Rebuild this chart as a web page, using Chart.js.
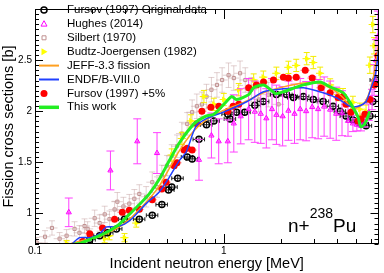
<!DOCTYPE html>
<html>
<head>
<meta charset="utf-8">
<script src="https://cdn.jsdelivr.net/npm/chart.js@4.4.0/dist/chart.umd.min.js"></script>
<style>
  html, body { margin: 0; padding: 0; background: #fff; }
  #wrap { position: relative; width: 384px; height: 273px; }
</style>
</head>
<body>
<div id="wrap"><canvas id="chart"></canvas></div>
<script>
/* ---- data (energy in MeV, cross section in barn) ---- */
const xTicks = [0.1, 1];
const yTicks = [1, 1.5, 2, 2.5];

// This work
const workE  = [0.157, 0.172, 0.195, 0.220, 0.248, 0.280, 0.316, 0.357, 0.403, 0.455, 0.514, 0.580, 0.695, 0.804, 0.886, 1.00, 1.10, 1.17, 1.354, 1.438, 1.624, 1.77, 1.88, 2.07, 2.64, 3.24, 3.66, 4.28, 4.66, 5.14, 5.32, 5.59, 5.94];
const workXS = [0.695, 0.705, 0.743, 0.781, 0.829, 0.895, 0.990, 1.086, 1.190, 1.333, 1.514, 1.686, 1.876, 1.952, 1.971, 2.067, 2.143, 2.114, 2.162, 2.229, 2.257, 2.210, 2.171, 2.190, 2.257, 2.286, 2.238, 2.181, 2.086, 1.943, 1.848, 1.876, 2.000];

// ENDF/B-VIII.0
const endfE  = [0.153, 0.172, 0.195, 0.220, 0.239, 0.264, 0.298, 0.328, 0.388, 0.455, 0.514, 0.580, 0.632, 0.711, 0.804, 1.025, 1.33, 1.624, 2.07, 2.64, 3.36, 3.94, 4.66, 5.14, 5.67, 6.03, 6.35, 6.6];
const endfXS = [0.680, 0.762, 0.762, 0.800, 0.867, 0.867, 0.895, 0.952, 1.095, 1.210, 1.352, 1.514, 1.600, 1.848, 1.924, 2.000, 2.095, 2.190, 2.219, 2.229, 2.181, 2.133, 2.048, 2.048, 2.095, 2.229, 2.352, 2.590];

// JEFF-3.3 fission
const jeffE  = [0.139, 0.162, 0.195, 0.220, 0.248, 0.280, 0.316, 0.357, 0.403, 0.455, 0.514, 0.580, 0.655, 0.739, 0.834, 1.00, 1.274, 1.624, 2.07, 2.64, 3.16, 3.79, 4.28, 4.66, 5.00, 5.46, 5.80, 6.16, 6.6];
const jeffXS = [0.676, 0.714, 0.752, 0.771, 0.819, 0.867, 0.943, 1.038, 1.143, 1.267, 1.438, 1.610, 1.752, 1.857, 1.933, 2.010, 2.086, 2.181, 2.238, 2.276, 2.276, 2.210, 2.133, 2.048, 2.029, 2.067, 2.143, 2.305, 2.638];

// Fursov (1997) original data
const fursovE   = [0.195, 0.220, 0.242, 0.270, 0.298, 0.357, 0.418, 0.470, 0.510, 0.530, 0.570, 0.640, 0.680, 0.739, 0.810, 0.886, 1.05, 1.08, 1.17, 1.29, 1.46, 1.62, 1.90, 2.15, 2.34, 2.64, 2.98, 3.36, 3.79, 4.13, 4.44, 4.83, 5.14, 5.46, 5.67, 5.94, 6.16, 6.40];
const fursovXS  = [0.743, 0.781, 0.810, 0.848, 0.943, 0.943, 0.981, 1.086, 1.229, 1.257, 1.343, 1.552, 1.533, 1.724, 1.867, 1.905, 1.971, 1.924, 1.990, 1.990, 2.057, 2.095, 2.162, 2.162, 2.133, 2.143, 2.114, 2.095, 2.048, 2.000, 1.952, 1.914, 1.895, 1.876, 1.857, 1.952, 2.095, 2.305];
const fursovDXS = [0.02, 0.02, 0.02, 0.02, 0.02, 0.02, 0.02, 0.03, 0.03, 0.03, 0.03, 0.03, 0.03, 0.03, 0.03, 0.03, 0.03, 0.03, 0.03, 0.03, 0.03, 0.03, 0.03, 0.03, 0.03, 0.03, 0.03, 0.03, 0.03, 0.03, 0.03, 0.03, 0.03, 0.03, 0.03, 0.03, 0.04, 0.04];
const fursovRelDE = 0.07;

// Fursov (1997) +5%
const plus5E   = [0.179, 0.195, 0.228, 0.264, 0.290, 0.316, 0.357, 0.418, 0.470, 0.495, 0.546, 0.565, 0.616, 0.640, 0.680, 0.720, 0.766, 0.854, 0.941, 1.05, 1.12, 1.20, 1.354, 1.49, 1.624, 1.833, 2.069, 2.198, 2.42, 2.70, 2.94, 3.28, 3.66, 4.03, 4.28, 4.44, 4.72, 5.14, 5.33, 5.59, 5.94, 6.28, 6.55];
const plus5XS  = [0.724, 0.800, 0.857, 0.943, 1.010, 1.030, 1.040, 1.133, 1.238, 1.305, 1.467, 1.495, 1.619, 1.638, 1.619, 1.876, 2.000, 2.038, 2.048, 2.000, 2.048, 2.067, 2.229, 2.257, 2.286, 2.305, 2.333, 2.324, 2.333, 2.400, 2.324, 2.229, 2.181, 2.133, 2.143, 2.067, 1.990, 1.905, 1.924, 1.971, 2.114, 2.257, 2.543];
const plus5DXS = [0.02, 0.02, 0.02, 0.02, 0.03, 0.03, 0.03, 0.03, 0.03, 0.03, 0.03, 0.03, 0.03, 0.03, 0.03, 0.03, 0.03, 0.03, 0.03, 0.03, 0.03, 0.03, 0.03, 0.03, 0.03, 0.03, 0.03, 0.03, 0.03, 0.03, 0.03, 0.03, 0.03, 0.03, 0.03, 0.03, 0.03, 0.03, 0.03, 0.03, 0.04, 0.04, 0.04];
const plus5RelDE = 0.06;

// Hughes (2014)
const hughesE   = [0.151, 0.251, 0.348, 0.443, 0.739, 0.86, 0.94, 1.05, 1.13, 1.23, 1.354, 1.46, 1.57, 1.68, 1.80, 1.90, 2.05, 2.20, 2.37, 2.54, 2.73, 2.94, 3.16, 3.40, 3.66, 3.94, 4.23, 4.55, 4.83, 5.07, 5.33, 5.59, 5.86, 6.10, 6.25, 6.40, 6.55];
const hughesXS  = [1.010, 1.420, 1.705, 1.590, 1.524, 1.762, 1.705, 1.705, 1.880, 1.950, 2.020, 1.995, 1.975, 1.930, 2.020, 1.965, 1.950, 2.005, 1.975, 2.020, 2.000, 2.040, 2.020, 2.045, 2.015, 1.975, 1.980, 1.905, 1.880, 1.867, 1.857, 1.895, 1.990, 2.114, 2.305, 2.500, 2.730];
const hughesDXS = [0.14, 0.19, 0.22, 0.20, 0.20, 0.22, 0.22, 0.21, 0.28, 0.27, 0.30, 0.30, 0.29, 0.29, 0.30, 0.29, 0.29, 0.29, 0.29, 0.30, 0.29, 0.30, 0.29, 0.29, 0.28, 0.26, 0.22, 0.15, 0.08, 0.06, 0.05, 0.05, 0.08, 0.10, 0.15, 0.20, 0.25];
const hughesRelDE = 0.02;

// Silbert (1970)
const silbertE   = [0.102, 0.113, 0.123, 0.135, 0.147, 0.162, 0.172, 0.183, 0.190, 0.207, 0.220, 0.234, 0.248, 0.264, 0.273, 0.294, 0.316, 0.336, 0.357, 0.388, 0.418, 0.443, 0.470, 0.500, 0.530, 0.565, 0.600, 0.640, 0.680, 0.720, 0.766, 0.810, 0.860, 0.920, 0.980, 1.06, 1.13, 1.22, 1.30, 1.40, 1.53, 1.72, 1.95];
const silbertXS  = [0.714, 0.771, 0.857, 0.752, 0.781, 0.848, 0.810, 0.876, 0.848, 0.952, 0.905, 0.990, 0.943, 1.038, 1.114, 1.067, 1.095, 1.143, 1.190, 1.162, 1.305, 1.257, 1.371, 1.467, 1.562, 1.657, 1.781, 1.876, 1.990, 2.048, 2.067, 2.143, 2.210, 2.257, 2.305, 2.352, 2.324, 2.371, 2.305, 2.210, 2.114, 2.162, 2.067];
const silbertDXS = [0.05, 0.06, 0.07, 0.06, 0.06, 0.07, 0.07, 0.07, 0.07, 0.08, 0.08, 0.08, 0.08, 0.08, 0.09, 0.09, 0.09, 0.09, 0.09, 0.10, 0.10, 0.10, 0.10, 0.10, 0.11, 0.11, 0.11, 0.11, 0.12, 0.12, 0.12, 0.12, 0.12, 0.12, 0.12, 0.12, 0.12, 0.12, 0.12, 0.12, 0.12, 0.12, 0.12];
const silbertRelDE = 0.07;

// Budtz-Joergensen (1982)
const budtzE   = [0.147, 0.234, 0.248, 0.298, 0.344, 0.530, 0.600, 0.670, 0.785, 0.886, 1.00, 1.20, 1.44, 1.62, 1.90, 2.20, 2.42, 2.75, 2.98, 3.24, 3.66, 4.03, 4.28, 4.83, 5.26, 5.67, 5.94, 6.16, 6.25];
const budtzXS  = [0.705, 0.752, 0.781, 0.762, 0.905, 1.571, 1.733, 1.905, 2.143, 2.067, 2.114, 2.210, 2.305, 2.333, 2.371, 2.429, 2.448, 2.514, 2.476, 2.371, 2.257, 2.162, 2.162, 2.086, 2.019, 2.000, 2.450, 2.848, 2.640];
const budtzDXS = [0.03, 0.04, 0.04, 0.04, 0.04, 0.06, 0.06, 0.06, 0.06, 0.06, 0.06, 0.06, 0.06, 0.06, 0.06, 0.06, 0.06, 0.06, 0.06, 0.06, 0.06, 0.06, 0.06, 0.06, 0.06, 0.06, 0.08, 0.08, 0.08];
const budtzRelDE = 0.05;

/* ---- helpers ---- */
const FONT = "'Liberation Sans', Arial, Helvetica, sans-serif";
const pts = (xs, ys) => xs.map((x, i) => ({ x, y: ys[i] }));

/* error bars drawn just under each dataset's own markers */
const errorBars = {
  id: 'errorBars',
  beforeDatasetDraw(chart, args) {
    const ds = chart.data.datasets[args.index];
    const e = ds.err;
    if (!e) return;
    const { ctx, chartArea: a, scales: { x, y } } = chart;
    ctx.save();
    ctx.beginPath();
    ctx.rect(a.left, a.top, a.right - a.left, a.bottom - a.top);
    ctx.clip();
    ctx.strokeStyle = e.color;
    ctx.lineWidth = 1;
    ds.data.forEach((p, i) => {
      const px = x.getPixelForValue(p.x);
      const py = y.getPixelForValue(p.y);
      const y1 = y.getPixelForValue(p.y - e.dy[i]);
      const y2 = y.getPixelForValue(p.y + e.dy[i]);
      const x1 = x.getPixelForValue(p.x * (1 - e.relDx));
      const x2 = x.getPixelForValue(p.x * (1 + e.relDx));
      ctx.beginPath();
      ctx.moveTo(x1, py); ctx.lineTo(x2, py);
      ctx.moveTo(px, y1); ctx.lineTo(px, y2);
      if (e.capY) {
        ctx.moveTo(px - e.capY, y1); ctx.lineTo(px + e.capY, y1);
        ctx.moveTo(px - e.capY, y2); ctx.lineTo(px + e.capY, y2);
      }
      if (e.capX) {
        ctx.moveTo(x1, py - e.capX); ctx.lineTo(x1, py + e.capX);
        ctx.moveTo(x2, py - e.capX); ctx.lineTo(x2, py + e.capX);
      }
      ctx.stroke();
    });
    ctx.restore();
  }
};

/* ROOT-like frame with inward ticks on all four sides */
const frameTicks = {
  id: 'frameTicks',
  afterDatasetsDraw(chart) {
    const { ctx, chartArea: a, scales: { x, y } } = chart;
    ctx.save();
    ctx.strokeStyle = '#000';
    ctx.lineWidth = 1;
    ctx.strokeRect(Math.round(a.left) + 0.5, Math.round(a.top) + 0.5, Math.round(a.right - a.left) - 1, Math.round(a.bottom - a.top) - 1);
    ctx.beginPath();
    for (let d = 0.1; d < 10; d *= 10) {
      for (let k = 1; k <= 9; k++) {
        const v = k * d;
        if (v < x.min - 1e-9 || v > x.max) continue;
        const px = Math.round(x.getPixelForValue(v)) + 0.5;
        const len = k === 1 ? 10 : 5;
        ctx.moveTo(px, a.bottom); ctx.lineTo(px, a.bottom - len);
        ctx.moveTo(px, a.top); ctx.lineTo(px, a.top + len);
      }
    }
    for (let i = 14; i <= 60; i++) {
      const v = i * 0.05;
      const py = Math.round(y.getPixelForValue(v)) + 0.5;
      const len = i % 10 === 0 ? 8 : 4;
      ctx.moveTo(a.left, py); ctx.lineTo(a.left + len, py);
      ctx.moveTo(a.right, py); ctx.lineTo(a.right - len, py);
    }
    ctx.stroke();
    ctx.restore();
  }
};

/* legend and reaction label */
function marker(ctx, kind, cx, cy) {
  ctx.beginPath();
  if (kind === 'circle') {
    ctx.arc(cx, cy, 3, 0, Math.PI * 2);
  } else if (kind === 'tri') {
    ctx.moveTo(cx, cy - 3.2); ctx.lineTo(cx + 3, cy + 2.2); ctx.lineTo(cx - 3, cy + 2.2); ctx.closePath();
  } else if (kind === 'square') {
    ctx.rect(cx - 2, cy - 2, 4, 4);
  } else if (kind === 'rtri') {
    ctx.moveTo(cx + 3.5, cy); ctx.lineTo(cx - 2.5, cy - 3.5); ctx.lineTo(cx - 2.5, cy + 3.5); ctx.closePath();
  } else if (kind === 'dot') {
    ctx.arc(cx, cy, 3.5, 0, Math.PI * 2);
  }
}

const legendRows = [
  { text: 'Fursov (1997) Original data', kind: 'circle', stroke: '#000', width: 1.5 },
  { text: 'Hughes (2014)', kind: 'tri', stroke: '#ff00ff', width: 1 },
  { text: 'Silbert (1970)', kind: 'square', stroke: '#c09090', width: 1 },
  { text: 'Budtz-Joergensen (1982)', kind: 'rtri', fill: '#ffff00' },
  { text: 'JEFF-3.3 fission', kind: 'line', stroke: '#ffa020', width: 2 },
  { text: 'ENDF/B-VIII.0', kind: 'line', stroke: '#2040ff', width: 2 },
  { text: 'Fursov (1997) +5%', kind: 'dot', fill: '#ff0000' },
  { text: 'This work', kind: 'line', stroke: '#22ee22', width: 3.5 },
];

const overlay = {
  id: 'overlay',
  afterDraw(chart) {
    const ctx = chart.ctx;
    ctx.save();
    ctx.font = '11.5px ' + FONT;
    ctx.textBaseline = 'middle';
    legendRows.forEach((r, i) => {
      const cy = 10 + i * 13.9;
      if (r.kind === 'line') {
        ctx.strokeStyle = r.stroke; ctx.lineWidth = r.width;
        ctx.beginPath(); ctx.moveTo(39, cy); ctx.lineTo(59, cy); ctx.stroke();
      } else {
        marker(ctx, r.kind, 44, cy);
        if (r.fill) { ctx.fillStyle = r.fill; ctx.fill(); }
        if (r.stroke) { ctx.strokeStyle = r.stroke; ctx.lineWidth = r.width; ctx.stroke(); }
      }
      ctx.fillStyle = '#000';
      ctx.fillText(r.text, 67, cy);
    });

    ctx.textBaseline = 'alphabetic';
    let tx = 288;
    ctx.font = '19px ' + FONT;
    ctx.fillText('n+', tx, 232);
    tx += ctx.measureText('n+').width;
    ctx.font = '14px ' + FONT;
    ctx.fillText('238', tx, 218);
    tx += ctx.measureText('238').width;
    ctx.font = '19px ' + FONT;
    ctx.fillText('Pu', tx, 232);
    ctx.restore();
  }
};

/* ---- chart ---- */
const lineSet = (label, xs, ys, color, width, order) => ({
  label, data: pts(xs, ys), showLine: true, borderColor: color, borderWidth: width,
  pointRadius: 0, tension: 0.25, clip: 0, order,
});

const ctx = document.getElementById('chart').getContext('2d');
new Chart(ctx, {
  type: 'scatter',
  data: {
    datasets: [
      lineSet('This work', workE, workXS, '#22ee22', 3, 0),
      lineSet('ENDF/B-VIII.0', endfE, endfXS, '#2040ff', 1.5, 1),
      lineSet('JEFF-3.3 fission', jeffE, jeffXS, '#ffa020', 1.5, 2),
      {
        label: 'Fursov (1997) +5%', data: pts(plus5E, plus5XS), order: 3,
        pointStyle: 'circle', pointRadius: 3.5, backgroundColor: '#ff0000', borderColor: '#ff0000', borderWidth: 0,
        err: { dy: plus5DXS, relDx: plus5RelDE, color: 'rgba(255,70,70,0.45)', capX: 0, capY: 0 },
      },
      {
        label: 'Hughes (2014)', data: pts(hughesE, hughesXS), order: 4,
        pointStyle: 'triangle', pointRadius: 3, backgroundColor: 'rgba(0,0,0,0)', borderColor: '#ff00ff', borderWidth: 1,
        err: { dy: hughesDXS, relDx: hughesRelDE, color: '#ff40ff', capY: 4, capX: 0 },
      },
      {
        label: 'Fursov (1997) Original data', data: pts(fursovE, fursovXS), order: 5,
        pointStyle: 'circle', pointRadius: 3, backgroundColor: 'rgba(0,0,0,0)', borderColor: '#000', borderWidth: 1.5,
        err: { dy: fursovDXS, relDx: fursovRelDE, color: '#222', capY: 0, capX: 2 },
      },
      {
        label: 'Budtz-Joergensen (1982)', data: pts(budtzE, budtzXS), order: 6,
        pointStyle: 'triangle', rotation: 90, pointRadius: 3.5, backgroundColor: '#ffff00', borderColor: '#ffff00', borderWidth: 0,
        err: { dy: budtzDXS, relDx: budtzRelDE, color: '#f4ec00', capY: 3, capX: 0 },
      },
      {
        label: 'Silbert (1970)', data: pts(silbertE, silbertXS), order: 7,
        pointStyle: 'rect', pointRadius: 2.2, backgroundColor: 'rgba(0,0,0,0)', borderColor: '#c09090', borderWidth: 1,
        err: { dy: silbertDXS, relDx: silbertRelDE, color: 'rgba(190,150,150,0.45)', capY: 3, capX: 0 },
      },
    ],
  },
  options: {
    responsive: true,
    maintainAspectRatio: false,
    animation: false,
    layout: { padding: { top: 2, right: 3, left: 0, bottom: 0 } },
    plugins: { legend: { display: false }, tooltip: { enabled: false } },
    scales: {
      x: {
        type: 'logarithmic', min: 0.1, max: 6.6,
        afterBuildTicks: s => { s.ticks = xTicks.map(v => ({ value: v })); },
        afterFit: s => { s.height = 29; },
        grid: { display: false, drawTicks: false },
        border: { display: false },
        ticks: { callback: v => String(v), color: '#000', font: { family: FONT, size: 10 }, padding: 1, maxRotation: 0, autoSkip: false },
        title: { display: true, text: 'Incident neutron energy [MeV]', color: '#000', font: { family: FONT, size: 14.5 }, padding: { top: 0, bottom: 0 } },
      },
      y: {
        min: 0.7, max: 3.0,
        afterBuildTicks: s => { s.ticks = yTicks.map(v => ({ value: v })); },
        afterFit: s => { s.width = 35; },
        grid: { display: false, drawTicks: false },
        border: { display: false },
        ticks: { callback: v => String(v), color: '#000', font: { family: FONT, size: 10 }, padding: 3 },
        title: { display: true, text: 'Fission cross sections [b]', color: '#000', font: { family: FONT, size: 14.5 }, padding: { top: 0, bottom: 0 } },
      },
    },
  },
  plugins: [errorBars, frameTicks, overlay],
});
</script>
</body>
</html>
